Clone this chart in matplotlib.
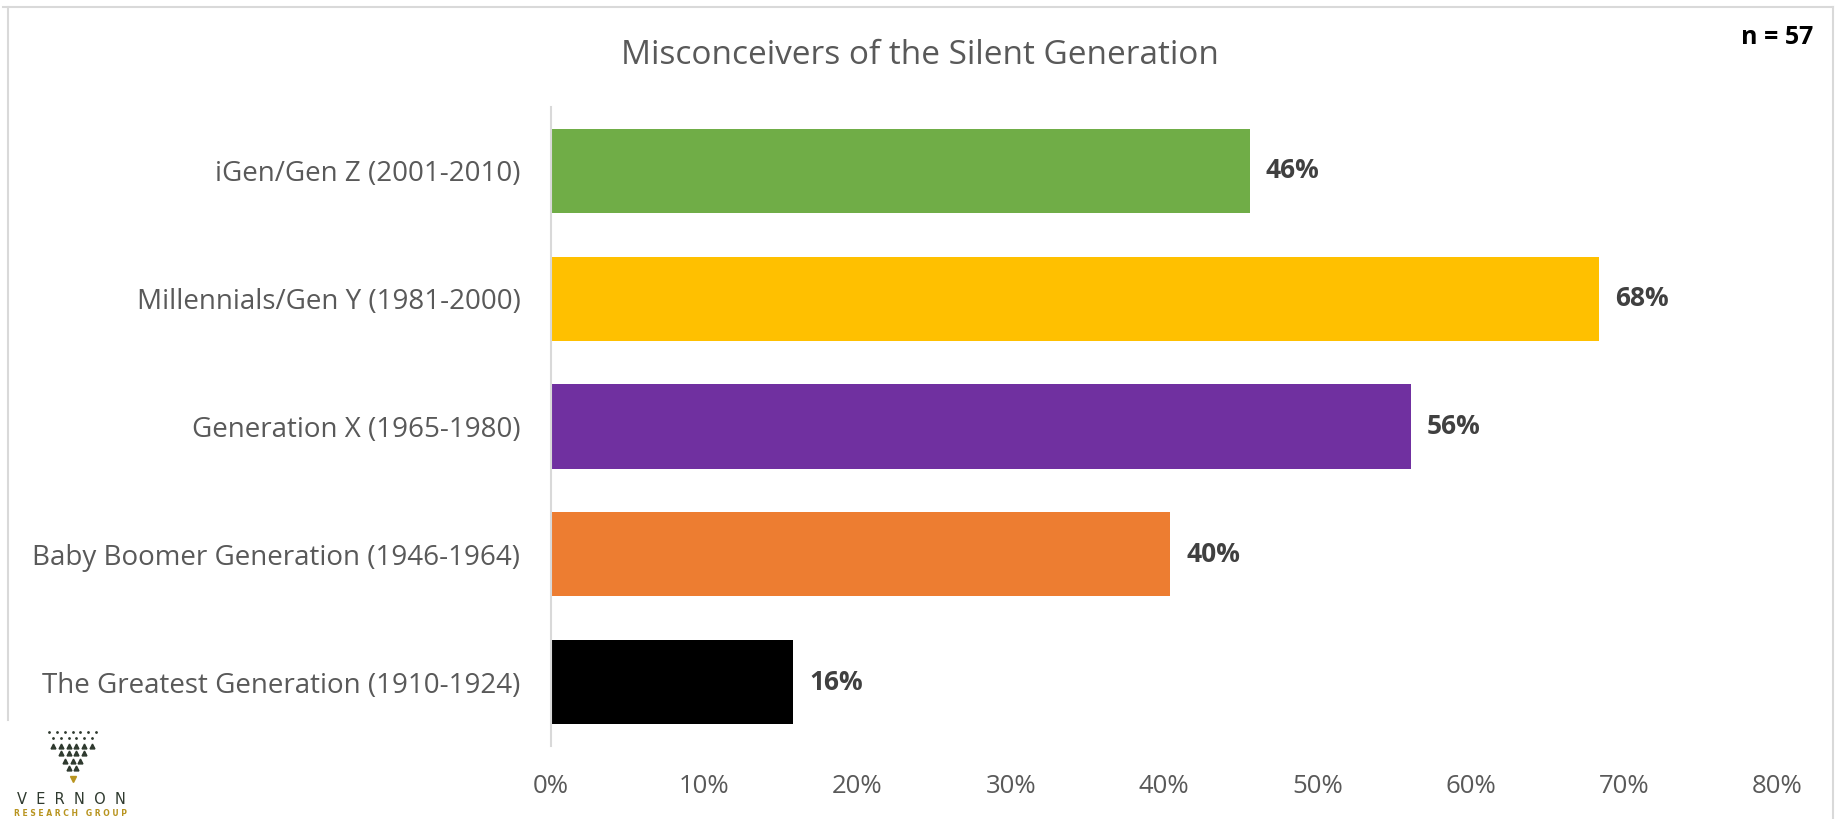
import matplotlib
matplotlib.use("Agg")
import matplotlib.pyplot as plt
from matplotlib.lines import Line2D

categories = ["iGen/Gen Z (2001-2010)", "Millennials/Gen Y (1981-2000)",
              "Generation X (1965-1980)", "Baby Boomer Generation (1946-1964)",
              "The Greatest Generation (1910-1924)"]
values = [45.6, 68.4, 56.1, 40.4, 15.8]
value_labels = ["46%", "68%", "56%", "40%", "16%"]
colors = ["#70AD47", "#FFC000", "#7030A0", "#ED7D31", "#000000"]
xticks = [0, 10, 20, 30, 40, 50, 60, 70, 80]
xtick_labels = ["0%", "10%", "20%", "30%", "40%", "50%", "60%", "70%", "80%"]
title = "Misconceivers of the Silent Generation"
n_label = "n = 57"

FONT = "Open Sans"
W, H = 1837, 819
fig = plt.figure(figsize=(W / 100, H / 100), dpi=100)
fig.patch.set_facecolor("white")

# chart border
fig.add_artist(Line2D([3 / W, 1833 / W], [1 - 7 / H, 1 - 7 / H], color="#D9D9D9", lw=1.5, transform=fig.transFigure))
fig.add_artist(Line2D([1833 / W, 1833 / W], [1 - 7 / H, 0], color="#D9D9D9", lw=1.5, transform=fig.transFigure))
fig.add_artist(Line2D([8 / W, 8 / W], [1 - 7 / H, 1 - 720 / H], color="#D9D9D9", lw=1.5, transform=fig.transFigure))

ax = fig.add_axes([551 / W, 1 - 746 / H, (1777 - 551) / W, (746 - 107) / H])
ypos = list(range(len(categories)))
ax.barh(ypos, values, height=0.66, color=colors)
ax.set_ylim(len(categories) - 0.5, -0.5)
ax.set_xlim(0, 80)
ax.set_yticks(ypos)
ax.set_yticklabels(categories, fontsize=20, color="#595959", family=FONT)
ax.set_xticks(xticks)
ax.set_xticklabels(xtick_labels, fontsize=18.5, color="#595959", family=FONT)
ax.tick_params(axis="both", length=0)
ax.tick_params(axis="y", pad=22)
ax.tick_params(axis="x", pad=20)
for s in ["top", "right", "bottom"]:
    ax.spines[s].set_visible(False)
ax.spines["left"].set_color("#D9D9D9")
ax.spines["left"].set_linewidth(1.5)

for y, v, lab in zip(ypos, values, value_labels):
    ax.annotate(lab, (v, y), xytext=(11.5, 0), textcoords="offset points",
                ha="left", va="center", fontsize=19, fontweight="bold",
                color="#404040", family=FONT)

fig.text(920 / W, 1 - 55 / H, title, ha="center", va="center", fontsize=24,
         color="#595959", family=FONT)
fig.text(1813 / W, 1 - 38 / H, n_label, ha="right", va="center", fontsize=18,
         fontweight="bold", color="#000000", family=FONT)

# logo
rows = [(732, 7, "."), (738, 6, "."), (746, 6, "^"), (753, 4, "^"), (761, 3, "^"), (768, 2, "^")]
for yy, n, m in rows:
    xs = [72.5 / W + (i - (n - 1) / 2) * 7.8 / W for i in range(n)]
    fig.add_artist(Line2D(xs, [1 - yy / H] * n, ls="none", marker=m,
                          markersize=2 if m == "." else 3.5, color="#2F3A2F",
                          transform=fig.transFigure))
fig.add_artist(Line2D([72.5 / W], [1 - 779 / H], ls="none", marker="v", markersize=5,
                      color="#B8941F", transform=fig.transFigure))
fig.text(71 / W, 1 - 799 / H, "V  E  R  N  O  N", ha="center", va="center", fontsize=10.5,
         color="#2F3A2F", family="DejaVu Sans")
fig.text(71 / W, 1 - 814 / H, "R E S E A R C H   G R O U P", ha="center", va="center", fontsize=5.5,
         color="#B8941F", family="DejaVu Sans", fontweight="bold")

fig.savefig("out.png", dpi=100, facecolor="white")
